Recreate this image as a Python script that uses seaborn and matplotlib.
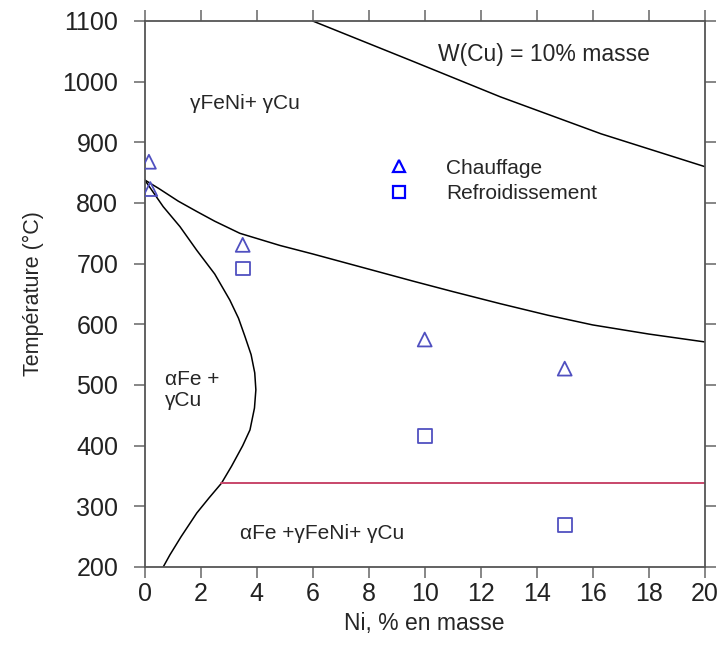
import matplotlib
matplotlib.use('Agg')
import matplotlib.pyplot as plt
from matplotlib.lines import Line2D
import seaborn as sns

# boundary curves (Ni wt%, temperature °C)
ni_top = [6.0, 9.5, 12.7, 16.3, 20.0]
t_top = [1100, 1035, 975, 914, 860]

ni_gamma = [0, 0.5, 1.2, 1.86, 2.5, 3.4, 4.83, 6.0, 8.0, 9.6, 11.0,
            12.7, 14.4, 16.0, 18.0, 20.0]
t_gamma = [838, 824, 803, 786, 770, 750, 730, 716, 691, 671, 654,
           634, 615, 599, 584, 571]

ni_alpha = [0, 0.3, 0.66, 1.26, 1.86, 2.5, 3.04, 3.35, 3.58, 3.8, 3.93,
            3.97, 3.92, 3.76, 3.5, 3.1, 2.74, 2.3, 1.86, 1.3, 0.9, 0.66]
t_alpha = [838, 818, 794, 761, 722, 683, 640, 610, 580, 550, 520,
           492, 462, 426, 400, 366, 338, 314, 289, 250, 220, 200]

ni_eutecto = [2.74, 20.0]
t_eutecto = [338, 338]

# measured points
ni_chauffage = [0.15, 0.2, 3.5, 10, 15]
t_chauffage = [868, 823, 731, 575, 527]
ni_refroid = [3.5, 10, 15]
t_refroid = [692, 416, 269]

sns.set_style('ticks')
plt.rcParams['font.family'] = ['Liberation Sans', 'DejaVu Sans']

fig = plt.figure(figsize=(7.21, 6.46), dpi=100)
ax = fig.add_axes([0.2007, 0.1223, 0.7767, 0.8452])

line_kw = dict(color='black', linewidth=1.1, sort=False, estimator=None, ax=ax)
sns.lineplot(x=ni_top, y=t_top, **line_kw)
sns.lineplot(x=ni_gamma, y=t_gamma, **line_kw)
sns.lineplot(x=ni_alpha, y=t_alpha, **line_kw)
sns.lineplot(x=ni_eutecto, y=t_eutecto, color='#c8466a', linewidth=1.4,
             sort=False, estimator=None, ax=ax)

pt_col = '#5050c0'
sns.scatterplot(x=ni_chauffage, y=t_chauffage, marker='^', s=100,
                facecolor='none', edgecolor=pt_col, linewidth=1.3, ax=ax, zorder=5)
sns.scatterplot(x=ni_refroid, y=t_refroid, marker='s', s=100,
                facecolor='none', edgecolor=pt_col, linewidth=1.3, ax=ax, zorder=5)

ax.set_xlim(0, 20)
ax.set_ylim(200, 1100)
ax.set_xticks(range(0, 21, 2))
ax.set_yticks(range(200, 1101, 100))

for s in ax.spines.values():
    s.set_color('#555555')
    s.set_linewidth(1.3)
ax.tick_params(direction='out', length=8, width=1.1, color='#666666',
               top=True, right=True, labelsize=18, labelcolor='#222222')
ax.tick_params(axis='y', pad=11)
ax.tick_params(axis='x', pad=3)

ax.set_xlabel('Ni, % en masse', fontsize=16.5, labelpad=4)
ax.set_ylabel('Température (°C)', fontsize=15.5, labelpad=13)

# phase labels
ax.text(1.62, 964, 'γFeNi+ γCu', fontsize=15, va='center', ha='left')
ax.text(0.72, 492, 'αFe +\nγCu', fontsize=15, va='center', ha='left', linespacing=1.1)
ax.text(3.4, 256, 'αFe +γFeNi+ γCu', fontsize=15, va='center', ha='left')
ax.text(10.48, 1044, 'W(Cu) = 10% masse', fontsize=16.5, va='center', ha='left')

handles = [
    Line2D([], [], marker='^', linestyle='none', markersize=9,
           markerfacecolor='none', markeredgecolor='#0000ff', markeredgewidth=1.6),
    Line2D([], [], marker='s', linestyle='none', markersize=9,
           markerfacecolor='none', markeredgecolor='#0000ff', markeredgewidth=1.6),
]
ax.legend(handles, ['Chauffage', 'Refroidissement'], loc='upper left',
          bbox_to_anchor=(0.4355, 0.748), frameon=False, fontsize=15,
          handlelength=1.0, handletextpad=1.75, labelspacing=0.32,
          borderpad=0, borderaxespad=0)

fig.savefig('out.png', dpi=100)
